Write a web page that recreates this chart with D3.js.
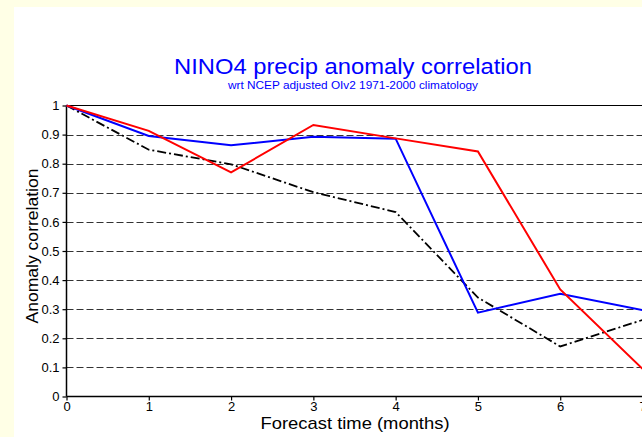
<html> <head>
<script src="https://d3js.org/d3.v7.min.js"></script>
<style>
  body { margin: 0; background: #fff; }
  svg { display: block; font-family: "Liberation Sans", Arial, sans-serif; }
</style>
</head>
<body>
<div id="chart"></div>
<script>

// data
const months = [0, 1, 2, 3, 4, 5, 6, 7];
const redVals = [1.0, 0.913, 0.77, 0.933, 0.887, 0.842, 0.368, 0.095];
const blueVals = [1.0, 0.895, 0.863, 0.893, 0.886, 0.288, 0.353, 0.297];
const blackVals = [1.0, 0.848, 0.798, 0.702, 0.634, 0.34, 0.172, 0.263];
const yTicks = [0, 0.1, 0.2, 0.3, 0.4, 0.5, 0.6, 0.7, 0.8, 0.9, 1];
const xTicks = [0, 1, 2, 3, 4, 5, 6, 7];

// constants
const canvas = [642, 437];
const plot = {left: 66.5, right: 642.5, top: 105.5, bottom: 396.5};

const svg = d3.select('#chart').append('svg')
  .attr('width', canvas[0])
  .attr('height', canvas[1]);

// background: pale yellow strip top and left
svg.append('rect').attr('x', 0).attr('y', 0).attr('width', canvas[0]).attr('height', canvas[1]).style('fill', '#ffffe6');
svg.append('rect').attr('x', 14).attr('y', 7).attr('width', canvas[0] - 14).attr('height', canvas[1] - 7).style('fill', '#ffffff');

const scX = d3.scaleLinear().domain([0, 7]).range([plot.left, plot.right]);
const scY = d3.scaleLinear().domain([0, 1]).range([plot.bottom, plot.top]);

// gridlines
svg.append('g').selectAll('line')
  .data(yTicks.filter(d => d > 0 && d < 1))
  .enter().append('line')
  .attr('x1', plot.left).attr('x2', plot.right)
  .attr('y1', d => Math.round(scY(d)) + 0.5).attr('y2', d => Math.round(scY(d)) + 0.5)
  .style('stroke', '#333')
  .style('stroke-width', 1)
  .style('stroke-dasharray', '7,3');

// top border
svg.append('line')
  .attr('x1', plot.left).attr('x2', plot.right)
  .attr('y1', plot.top).attr('y2', plot.top)
  .style('stroke', '#000').style('stroke-width', 1.2);

// axes
const yAxis = d3.axisLeft(scY).tickValues(yTicks).tickSize(4).tickPadding(3)
  .tickFormat(d => d === 0 || d === 1 ? d3.format('d')(d) : d3.format('.1f')(d));
const xAxis = d3.axisBottom(scX).tickValues(xTicks).tickSize(4).tickPadding(1)
  .tickFormat(d3.format('d'));

const gy = svg.append('g').attr('transform', `translate(${plot.left},0)`).call(yAxis);
const gx = svg.append('g').attr('transform', `translate(0,${plot.bottom})`).call(xAxis);
[gx, gy].forEach(g => {
  g.select('.domain').attr('stroke', '#000').attr('stroke-width', 1.5);
  g.selectAll('.tick line').attr('stroke', '#000').attr('stroke-width', 1.2);
  g.selectAll('.tick text').attr('fill', '#000').style('font-size', '13px')
    .style('font-family', '"Liberation Sans", Arial, sans-serif');
});
gy.select('.domain').attr('d', `M0,${plot.bottom}V${plot.top}`);
gx.select('.domain').attr('d', `M${plot.left},0H${plot.right}`);

// lines
const line = d3.line().x((d, i) => scX(months[i])).y(d => scY(d));
const series = [
  {vals: blackVals, color: '#000', width: 1.8, dash: '9,3,2,3'},
  {vals: blueVals, color: '#0000ff', width: 2, dash: null},
  {vals: redVals, color: '#ff0000', width: 2, dash: null}
];
series.forEach(s => {
  svg.append('path')
    .datum(s.vals)
    .attr('d', line)
    .style('fill', 'none')
    .style('stroke', s.color)
    .style('stroke-width', s.width)
    .style('stroke-dasharray', s.dash);
});

// titles
svg.append('text')
  .attr('x', 353).attr('y', 74)
  .attr('text-anchor', 'middle')
  .style('font-size', '22px').style('fill', '#0000ff')
  .attr('textLength', 358).attr('lengthAdjust', 'spacingAndGlyphs')
  .text('NINO4 precip anomaly correlation');
svg.append('text')
  .attr('x', 353).attr('y', 89)
  .attr('text-anchor', 'middle')
  .style('font-size', '10px').style('fill', '#0000ff')
  .attr('textLength', 250).attr('lengthAdjust', 'spacingAndGlyphs')
  .text('wrt NCEP adjusted OIv2 1971-2000 climatology');

svg.append('text')
  .attr('transform', 'translate(38,246) rotate(-90)')
  .attr('text-anchor', 'middle')
  .style('font-size', '17px').style('fill', '#000')
  .attr('textLength', 155).attr('lengthAdjust', 'spacingAndGlyphs')
  .text('Anomaly correlation');
svg.append('text')
  .attr('x', 355).attr('y', 429)
  .attr('text-anchor', 'middle')
  .style('font-size', '17px').style('fill', '#000')
  .attr('textLength', 189).attr('lengthAdjust', 'spacingAndGlyphs')
  .text('Forecast time (months)');

</script> </body></html>
